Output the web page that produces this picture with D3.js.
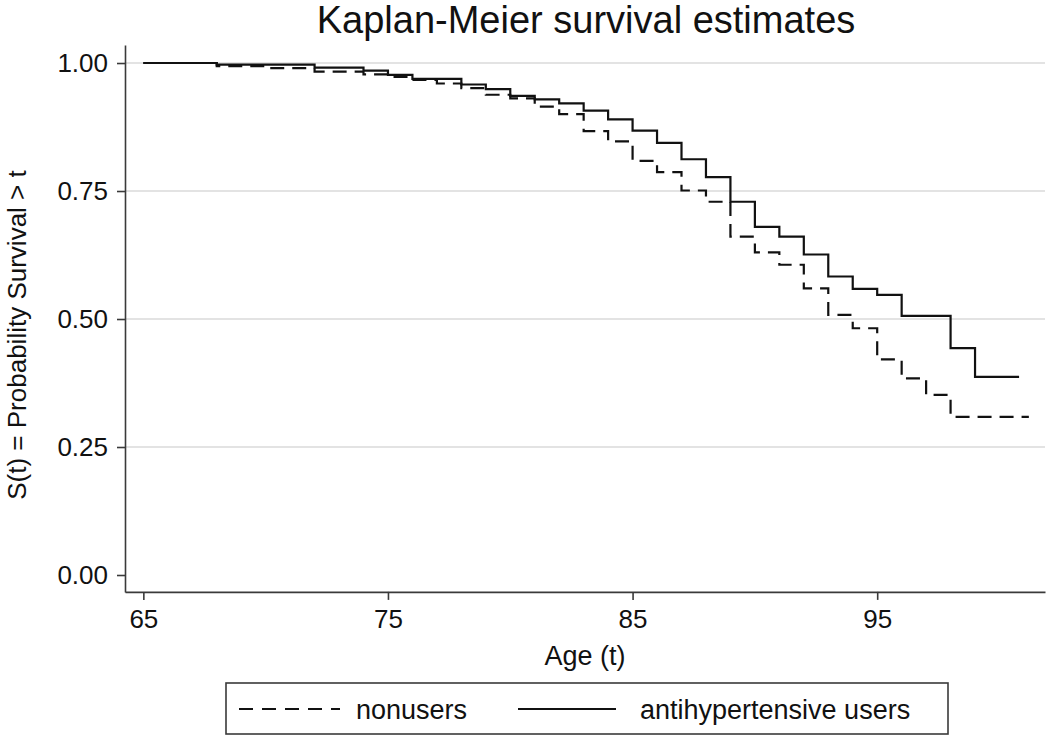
<!DOCTYPE html>
<html>
<head>
<meta charset="utf-8">
<script src="https://cdn.jsdelivr.net/npm/d3@7"></script>
<style>
  html, body { margin: 0; padding: 0; background: #fff; }
  svg { display: block; font-family: "Liberation Sans", Arial, Helvetica, sans-serif; }
</style>
</head>
<body>
<svg id="chart" width="1050" height="738"></svg>
<script>
// ---- data ----
const chartTitle = "Kaplan-Meier survival estimates";
const xTitle = "Age (t)";
const yTitle = "S(t) = Probability Survival > t";
const ageTicks = [65, 75, 85, 95];
const survTicks = [0, 0.25, 0.5, 0.75, 1];
const seriesNames = ["nonusers", "antihypertensive users"];

// nonusers (dashed)
const nonAges = [65, 68, 70, 72, 74, 75, 76, 77, 78, 79, 80, 81, 82, 83, 84, 85, 86, 87, 88, 89, 90, 91, 92, 93, 94, 95, 96, 97, 98];
const nonSurv = [1.000, 0.994, 0.990, 0.983, 0.978, 0.973, 0.967, 0.960, 0.951, 0.938, 0.931, 0.915, 0.900, 0.867, 0.847, 0.809, 0.787, 0.751, 0.729, 0.661, 0.630, 0.606, 0.560, 0.508, 0.482, 0.421, 0.384, 0.352, 0.309];
const nonEnd = 101.2;

// antihypertensive users (solid)
const userAges = [65, 68, 72, 74, 75, 76, 78, 79, 80, 81, 82, 83, 84, 85, 86, 87, 88, 89, 90, 91, 92, 93, 94, 95, 96, 98, 99];
const userSurv = [1.000, 0.997, 0.991, 0.985, 0.977, 0.969, 0.958, 0.949, 0.936, 0.929, 0.921, 0.907, 0.890, 0.868, 0.844, 0.812, 0.777, 0.729, 0.680, 0.661, 0.626, 0.583, 0.559, 0.547, 0.506, 0.443, 0.387];
const userEnd = 100.8;

// ---- drawing ----
const svg = d3.select("#chart");
const FONT = 26;

const x = d3.scaleLinear().domain([64.25, 101.86]).range([125, 1045]);
const y = d3.scaleLinear().domain([-0.033, 1.035]).range([591.9, 45.1]);

// gridlines
svg.append("g").selectAll("line")
  .data(survTicks.filter(d => d > 0))
  .join("line")
  .attr("x1", x.range()[0]).attr("x2", x.range()[1])
  .attr("y1", d => y(d)).attr("y2", d => y(d))
  .attr("stroke", "#e3e3e3").attr("stroke-width", 2);

// axes
const yAxis = d3.axisLeft(y).tickValues(survTicks).tickFormat(d3.format(".2f"))
  .tickSize(8).tickSizeOuter(0).tickPadding(9);
const gy = svg.append("g").attr("transform", `translate(${x.range()[0]},0)`).call(yAxis);

const xAxis = d3.axisBottom(x).tickValues(ageTicks).tickFormat(d3.format("d"))
  .tickSize(8).tickSizeOuter(0).tickPadding(10);
const gx = svg.append("g").attr("transform", `translate(0,${y.range()[0]})`).call(xAxis);

[gx, gy].forEach(g => {
  g.select(".domain").attr("stroke", "#3a3a3a").attr("stroke-width", 1.6);
  g.selectAll(".tick line").attr("stroke", "#3a3a3a").attr("stroke-width", 1.6);
  g.selectAll(".tick text").attr("fill", "#111").style("font-size", FONT + "px")
    .style("font-family", '"Liberation Sans", Arial, Helvetica, sans-serif');
});

// curves
const line = d3.line().x(d => x(d[0])).y(d => y(d[1])).curve(d3.curveStepAfter);
function pts(ages, surv, end) {
  const p = ages.map((a, i) => [a, surv[i]]);
  p.push([end, surv[surv.length - 1]]);
  return p;
}
svg.append("path").datum(pts(nonAges, nonSurv, nonEnd))
  .attr("d", line).attr("fill", "none").attr("stroke", "#111")
  .attr("stroke-width", 2.2).attr("stroke-dasharray", "14,8");
svg.append("path").datum(pts(userAges, userSurv, userEnd))
  .attr("d", line).attr("fill", "none").attr("stroke", "#111")
  .attr("stroke-width", 2.2);

// titles
svg.append("text").attr("x", 586).attr("y", 33).attr("text-anchor", "middle")
  .style("font-size", "38px").attr("fill", "#111").text(chartTitle);
svg.append("text").attr("x", (x.range()[0] + x.range()[1]) / 2).attr("y", 665)
  .attr("text-anchor", "middle").style("font-size", "27px").attr("fill", "#111").text(xTitle);
svg.append("text").attr("transform", "translate(26,335) rotate(-90)")
  .attr("text-anchor", "middle").style("font-size", "26px").attr("fill", "#111").text(yTitle);

// legend
const lg = svg.append("g");
lg.append("rect").attr("x", 226).attr("y", 683).attr("width", 722).attr("height", 51)
  .attr("fill", "#fff").attr("stroke", "#3a3a3a").attr("stroke-width", 1.6);
const legendItems = [
  { name: seriesNames[0], x1: 239, x2: 340, tx: 356, dash: "14,9" },
  { name: seriesNames[1], x1: 518, x2: 616, tx: 640, dash: null }
];
legendItems.forEach(it => {
  const l = lg.append("line").attr("x1", it.x1).attr("x2", it.x2)
    .attr("y1", 709).attr("y2", 709).attr("stroke", "#111").attr("stroke-width", 2.2);
  if (it.dash) l.attr("stroke-dasharray", it.dash);
  lg.append("text").attr("x", it.tx).attr("y", 719).style("font-size", "27px")
    .attr("fill", "#111").text(it.name);
});
</script>
</body>
</html>
